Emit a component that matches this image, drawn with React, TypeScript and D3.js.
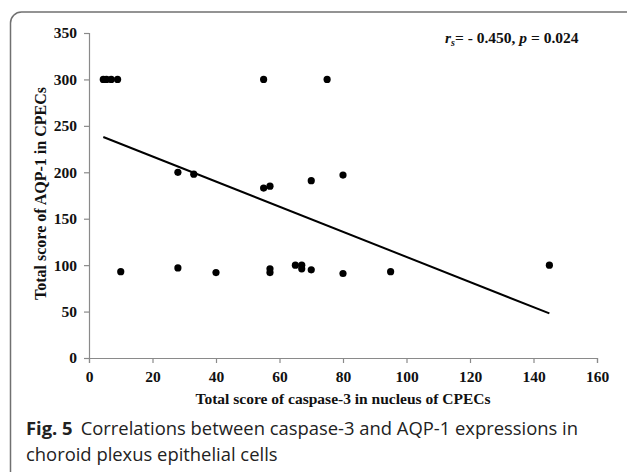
import { useEffect, useRef } from "react";
import * as d3 from "d3";

const W = 627;
const H = 472;

// x = caspase-3 score, y = AQP-1 score
const xValues = [4.5, 5.5, 7, 9, 55, 75, 28, 33, 55, 57, 70, 80, 10, 28, 40, 57, 57, 65, 67, 67, 70, 80, 95, 145];
const yValues = [300, 300, 300, 300, 300, 300, 200, 198, 183, 185, 191, 197, 93, 97, 92, 96, 92, 100, 100, 96, 95, 91, 93, 100];
const trendX = [4.5, 145];
const trendY = [238, 48];
const xTicks = [0, 20, 40, 60, 80, 100, 120, 140, 160];
const yTicks = [0, 50, 100, 150, 200, 250, 300, 350];

const xLabel = "Total score of caspase-3 in nucleus of CPECs";
const yLabel = "Total score of AQP-1 in CPECs";
const captionLine1 = "Correlations between caspase-3 and AQP-1 expressions in";
const captionLine2 = "choroid plexus epithelial cells";

const plot = { left: 89, right: 597, top: 33, bottom: 358 };
const axisColor = "#8a8a8a";
const serif = "'Liberation Serif', 'Times New Roman', serif";

export default function App() {
  const ref = useRef<SVGSVGElement>(null);

  useEffect(() => {
    const svg = d3.select(ref.current);
    svg.selectAll("*").remove();

    const x = d3.scaleLinear().domain([0, 160]).range([plot.left, plot.right]);
    const y = d3.scaleLinear().domain([0, 350]).range([plot.bottom, plot.top]);

    // figure frame, cut off at right and bottom
    svg
      .append("rect")
      .attr("x", 10.5)
      .attr("y", 12)
      .attr("width", 630)
      .attr("height", 480)
      .attr("rx", 11)
      .attr("fill", "none")
      .attr("stroke", "#707070")
      .attr("stroke-width", 1.5);

    const xAxis = svg
      .append("g")
      .attr("transform", `translate(0,${plot.bottom})`)
      .call(d3.axisBottom(x).tickValues(xTicks).tickSize(5).tickPadding(8).tickFormat(d3.format("d")));
    const yAxis = svg
      .append("g")
      .attr("transform", `translate(${plot.left},0)`)
      .call(d3.axisLeft(y).tickValues(yTicks).tickSize(5).tickPadding(7).tickFormat(d3.format("d")));

    [xAxis, yAxis].forEach((g) => {
      g.select(".domain").attr("stroke", axisColor).attr("stroke-width", 1.2);
      g.selectAll(".tick line").attr("stroke", axisColor).attr("stroke-width", 1.2);
      g.selectAll(".tick text")
        .attr("fill", "#111")
        .style("font-family", serif)
        .style("font-weight", "bold")
        .style("font-size", "15.5px");
    });

    svg
      .append("text")
      .attr("x", (plot.left + plot.right) / 2)
      .attr("y", 404)
      .attr("text-anchor", "middle")
      .style("font-family", serif)
      .style("font-weight", "bold")
      .style("font-size", "15.5px")
      .attr("fill", "#111")
      .text(xLabel);

    svg
      .append("text")
      .attr("transform", `translate(46,${(plot.top + plot.bottom) / 2 - 2}) rotate(-90)`)
      .attr("text-anchor", "middle")
      .style("font-family", serif)
      .style("font-weight", "bold")
      .style("font-size", "16px")
      .attr("fill", "#111")
      .text(yLabel);

    // regression line
    svg
      .append("line")
      .attr("x1", x(trendX[0]))
      .attr("y1", y(trendY[0]))
      .attr("x2", x(trendX[1]))
      .attr("y2", y(trendY[1]))
      .attr("stroke", "#000")
      .attr("stroke-width", 2);

    svg
      .append("g")
      .selectAll("circle")
      .data(xValues.map((v, i) => [v, yValues[i]]))
      .join("circle")
      .attr("cx", (d) => x(d[0]))
      .attr("cy", (d) => y(d[1]))
      .attr("r", 3.6)
      .attr("fill", "#000");

    // correlation annotation
    const ann = svg
      .append("text")
      .attr("x", 445)
      .attr("y", 43)
      .style("font-family", serif)
      .style("font-weight", "bold")
      .style("font-size", "15.5px")
      .attr("fill", "#111");
    ann.append("tspan").style("font-style", "italic").text("r");
    ann.append("tspan").style("font-style", "italic").style("font-size", "10px").attr("dy", 3).text("s");
    ann.append("tspan").attr("dy", -3).text("= - 0.450, ");
    ann.append("tspan").style("font-style", "italic").text("p");
    ann.append("tspan").text(" = 0.024");

    // caption
    const cap = svg
      .append("text")
      .attr("x", 26)
      .attr("y", 435)
      .style("font-family", "'Open Sans', 'Noto Sans', sans-serif")
      .style("font-size", "18.4px")
      .attr("fill", "#222");
    cap.append("tspan").style("font-weight", "bold").text("Fig. 5");
    cap.append("tspan").attr("dx", 8).text(captionLine1);
    svg
      .append("text")
      .attr("x", 26)
      .attr("y", 461)
      .style("font-family", "'Open Sans', 'Noto Sans', sans-serif")
      .style("font-size", "18.4px")
      .attr("fill", "#222")
      .text(captionLine2);
  }, []);

  return (
    <svg
      ref={ref}
      width={W}
      height={H}
      style={{ position: "absolute", left: 0, top: 0, background: "#fff" }}
    />
  );
}
